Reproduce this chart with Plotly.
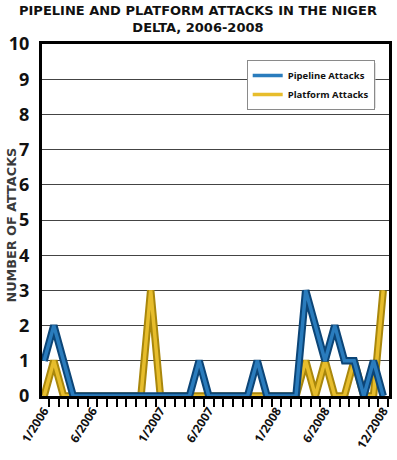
import plotly.graph_objects as go

months = [f"{m}/{y}" for y in (2006, 2007, 2008) for m in range(1, 13)]
pipeline = [1, 2, 1, 0, 0, 0, 0, 0, 0, 0, 0, 0,
            0, 0, 0, 0, 1, 0, 0, 0, 0, 0, 1, 0,
            0, 0, 0, 3, 2, 1, 2, 1, 1, 0, 1, 0]
platform = [0, 1, 0, 0, 0, 0, 0, 0, 0, 0, 0, 3,
            0, 0, 0, 0, 0, 0, 0, 0, 0, 0, 0, 0,
            0, 0, 0, 1, 0, 1, 0, 0, 1, 0, 0, 3]
tick_labels = ["1/2006", "6/2006", "1/2007", "6/2007", "1/2008", "6/2008", "12/2008"]
y_ticks = list(range(0, 11))

x = list(range(len(months)))
tickvals = [months.index(t) for t in tick_labels]

BLUE_OUT, BLUE_IN = "#0c4577", "#2a7cbd"
GOLD_OUT, GOLD_IN = "#a9870c", "#e7bd2c"

fig = go.Figure()
for vals, name, c_out, c_in in [(platform, "Platform Attacks", GOLD_OUT, GOLD_IN),
                                 (pipeline, "Pipeline Attacks", BLUE_OUT, BLUE_IN)]:
    fig.add_trace(go.Scatter(x=x, y=vals, mode="lines", line=dict(color=c_out, width=7.5),
                             showlegend=False, hoverinfo="skip"))
    fig.add_trace(go.Scatter(x=x, y=vals, mode="lines", name=name,
                             line=dict(color=c_in, width=3.5), showlegend=True))

L, R, T, B = 42, 389.5, 44, 396
W, H = R - L, B - T
def px(xp): return (xp - L) / W
def py(yp): return (B - yp) / H

fig.add_shape(type="rect", xref="paper", yref="paper",
              x0=px(250), x1=px(376), y0=py(108), y1=py(63),
              fillcolor="#c4c4c4", line=dict(width=0), layer="above")

fig.add_annotation(
    text="PIPELINE AND PLATFORM ATTACKS IN THE NIGER<br>DELTA, 2006-2008",
    xref="paper", yref="paper", x=px(198.5), y=py(1), xanchor="center", yanchor="top",
    showarrow=False, align="center",
    font=dict(family="DejaVu Sans", size=13, color="#111", weight="bold"))

fig.add_annotation(
    text="NUMBER OF ATTACKS", textangle=-90,
    xref="paper", yref="paper", x=px(11), y=py(225.5), xanchor="center", yanchor="middle",
    showarrow=False,
    font=dict(family="DejaVu Sans", size=12.8, color="#3a3a3a", weight="bold"))

fig.update_layout(
    width=397, height=460,
    margin=dict(l=L, r=397 - R, t=T, b=460 - B, autoexpand=False),
    paper_bgcolor="white", plot_bgcolor="white",
    legend=dict(x=px(247), y=py(60), xanchor="left", yanchor="top",
                bgcolor="white", bordercolor="#8a8a8a", borderwidth=1,
                traceorder="reversed", itemwidth=30,
                font=dict(family="Open Sans", size=9.5, color="#111", weight="bold")),
    showlegend=True,
)
fig.update_xaxes(
    automargin=False,
    range=[-0.22, 35.6], tickmode="array", tickvals=tickvals, ticktext=tick_labels,
    tickangle=-58, ticks="", showgrid=False, zeroline=False,
    showline=True, linecolor="black", linewidth=3, mirror=True,
    tickfont=dict(family="Open Sans", size=12, color="#111", weight="bold"),
    minor=dict(tickmode="linear", tick0=0.5, dtick=1, ticks="outside", ticklen=8,
               tickwidth=1.5, tickcolor="black", showgrid=False),
)
fig.update_yaxes(
    automargin=False,
    range=[0, 10], tickmode="array", tickvals=y_ticks, ticks="",
    showgrid=True, gridcolor="#444", gridwidth=1, zeroline=False,
    showline=True, linecolor="black", linewidth=3, mirror=True,
    tickfont=dict(family="Open Sans", size=18, color="#111", weight="bold"),
    ticklabelstandoff=6,
)

fig.write_html("out.html", config={"displayModeBar": False},
               post_script="document.body.style.margin='0';")
